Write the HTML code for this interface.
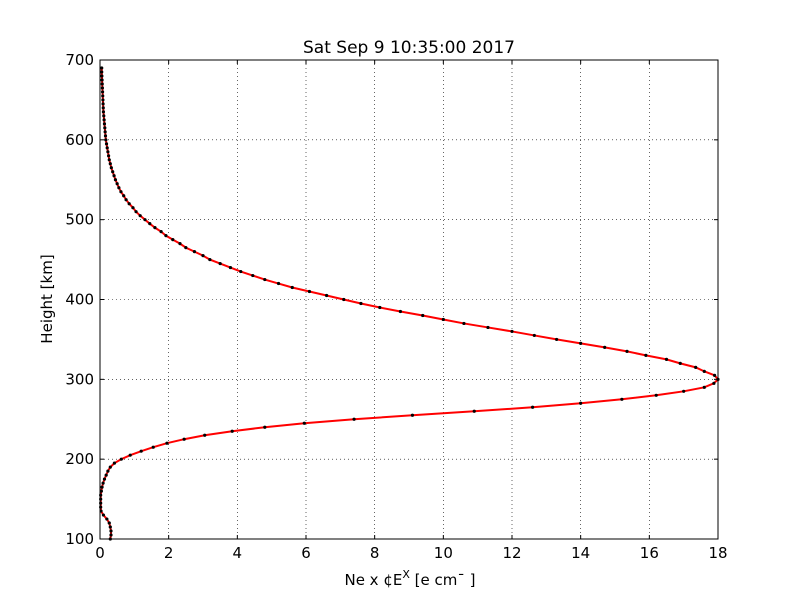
<!DOCTYPE html>
<html><head><meta charset="utf-8"><style>
html,body{margin:0;padding:0;background:#fff;}
svg text{font-family:"DejaVu Sans","Liberation Sans",sans-serif;fill:#000;}
</style></head><body>
<svg id="chart" width="800" height="600" viewBox="0 0 800 600" xmlns="http://www.w3.org/2000/svg">
<rect x="0" y="0" width="800" height="600" fill="#fff"/>
<text x="409" y="53" font-size="17" text-anchor="middle">Sat Sep  9 10:35:00 2017</text>
<g id="grid"></g>
<g id="ticks"></g>
<g id="series"></g>
<rect x="100" y="60" width="618" height="479" fill="none" stroke="#000" stroke-width="1"/>
<text x="410" y="585" font-size="15" text-anchor="middle">Ne x ¢E<tspan dy="-7" font-size="11">X</tspan><tspan dy="7">  [e cm¯ ]</tspan></text>
<text x="52" y="299" font-size="15" text-anchor="middle" transform="rotate(-90 52 299)">Height [km]</text>
</svg>
<script>
const heights = [100,105,110,115,120,125,130,135,140,145,150,155,160,165,170,175,180,185,190,195,200,205,210,215,220,225,230,235,240,245,250,255,260,265,270,275,280,285,290,295,300,305,310,315,320,325,330,335,340,345,350,355,360,365,370,375,380,385,390,395,400,405,410,415,420,425,430,435,440,445,450,455,460,465,470,475,480,485,490,495,500,505,510,515,520,525,530,535,540,545,550,555,560,565,570,575,580,585,590,595,600,605,610,615,620,625,630,635,640,645,650,655,660,665,670,675,680,685,690];
const density = [0.3,0.32,0.32,0.3,0.27,0.2,0.1,0.03,0.02,0.02,0.02,0.02,0.04,0.06,0.09,0.13,0.18,0.23,0.3,0.42,0.62,0.88,1.2,1.55,1.95,2.45,3.05,3.85,4.8,5.95,7.4,9.1,10.9,12.6,14.0,15.2,16.2,17.0,17.6,17.88,18.0,17.9,17.6,17.35,16.9,16.5,15.9,15.35,14.7,14.0,13.3,12.65,12.0,11.3,10.6,10.0,9.4,8.75,8.15,7.6,7.1,6.6,6.1,5.6,5.2,4.8,4.45,4.1,3.8,3.5,3.2,3.0,2.75,2.5,2.33,2.12,1.92,1.78,1.6,1.45,1.31,1.17,1.05,0.96,0.85,0.76,0.69,0.61,0.55,0.5,0.45,0.41,0.37,0.33,0.3,0.27,0.25,0.23,0.21,0.19,0.17,0.16,0.15,0.14,0.13,0.12,0.11,0.1,0.095,0.09,0.085,0.08,0.075,0.07,0.065,0.06,0.055,0.05,0.05];
const xTicks = [0,2,4,6,8,10,12,14,16,18];
const yTicks = [100,200,300,400,500,600,700];

const X0=100,X1=718,Y0=539,Y1=60,XMIN=0,XMAX=18,YMIN=100,YMAX=700;
const sx=v=>X0+(v-XMIN)/(XMAX-XMIN)*(X1-X0);
const sy=v=>Y0-(v-YMIN)/(YMAX-YMIN)*(Y0-Y1);
const NS='http://www.w3.org/2000/svg';
function mk(tag,attrs,parent){const e=document.createElementNS(NS,tag);for(const k in attrs)e.setAttribute(k,attrs[k]);parent.appendChild(e);return e;}
const grid=document.getElementById('grid'),ticks=document.getElementById('ticks'),series=document.getElementById('series');

xTicks.forEach(t=>{
  const x=sx(t);
  const g=mk('line',{x1:x,x2:x,y1:Y1,y2:Y0,stroke:'#000','stroke-width':0.6,'stroke-dasharray':'1,3'},grid);
  
  
  const a=mk('line',{x1:x,x2:x,y1:Y0,y2:Y0-4,stroke:'#000'},ticks);
  
  
  const b=mk('line',{x1:x,x2:x,y1:Y1,y2:Y1+4,stroke:'#000'},ticks);
  
  
  const l=mk('text',{x:x,y:Y0+19,'font-size':15,'text-anchor':'middle'},ticks);
  l.textContent=t;
  
  
});
yTicks.forEach(t=>{
  const y=sy(t);
  const g=mk('line',{x1:X0,x2:X1,y1:y,y2:y,stroke:'#000','stroke-width':0.6,'stroke-dasharray':'1,3'},grid);
  
  
  const a=mk('line',{x1:X0,x2:X0+4,y1:y,y2:y,stroke:'#000'},ticks);
  
  
  const b=mk('line',{x1:X1,x2:X1-4,y1:y,y2:y,stroke:'#000'},ticks);
  
  
  const l=mk('text',{x:X0-6,y:y+5,'font-size':15,'text-anchor':'end'},ticks);
  l.textContent=t;
  
  
});

const pts=heights.map((h,i)=>sx(density[i]).toFixed(2)+','+sy(h).toFixed(2)).join(' ');
const line=mk('polyline',{points:pts,fill:'none',stroke:'#ff0000','stroke-width':2},series);


heights.forEach((h,i)=>{
  const c=mk('circle',{cx:sx(density[i]),cy:sy(h),r:1.6,fill:'#000'},series);
  
  
});
</script>
</body></html>
